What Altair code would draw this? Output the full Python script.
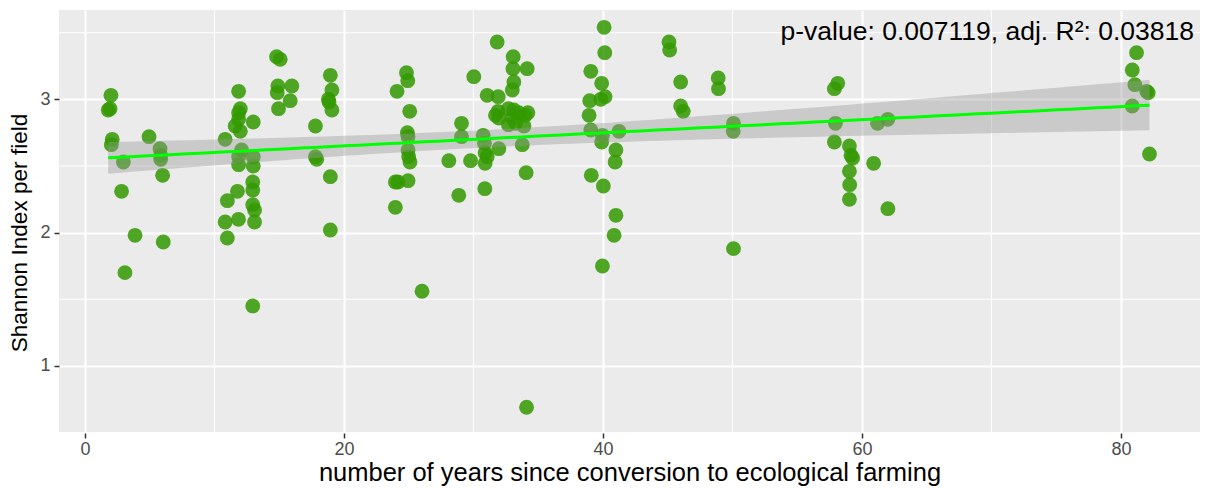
import altair as alt
import numpy as np
import pandas as pd

# ---- data ----
years = [
    2.01, 1.80, 1.94, 2.11, 2.04, 2.97, 2.83, 3.87, 3.09, 4.95, 5.80, 5.85, 5.85, 6.00, 6.05,
    11.87, 12.00, 11.87, 11.87, 11.60, 13.00, 12.00, 10.83, 12.10, 11.87, 13.00, 11.87, 13.00,
    12.96, 12.96, 11.78, 11.00, 12.96, 13.10, 10.83, 11.86, 13.10, 11.00, 12.96,
    14.80, 15.08, 14.90, 14.85, 15.98, 15.85, 14.95, 17.80, 17.80, 17.90, 18.95, 19.07, 18.80,
    18.85, 19.07, 18.95, 18.95,
    24.10, 24.83, 24.93, 25.08, 24.90, 24.95, 24.95, 25.00, 25.10, 23.97, 24.17, 24.95, 23.97, 26.03,
    28.10, 29.08, 29.08, 30.03, 29.78, 28.87, 30.75, 30.85, 30.90, 31.06, 30.90, 30.88, 31.06,
    31.91, 31.83, 31.90, 31.70, 31.96, 31.96,
    33.07, 33.05, 34.15, 33.12, 33.00, 32.70, 33.12, 33.50, 34.00, 34.20, 33.00, 32.70, 33.90,
    33.25, 33.77, 34.07, 34.10,
    39.06, 40.09, 40.14, 39.90, 40.16, 39.83, 38.98, 38.93, 39.06, 39.96, 39.90, 41.24, 41.00,
    40.94, 39.10, 40.03, 41.00, 40.86, 39.96,
    45.10, 45.15, 46.00, 46.00, 46.20, 48.90, 48.92, 50.08, 50.06, 50.08,
    57.87, 58.13, 57.95, 57.87, 59.03, 59.15, 59.28, 59.03, 59.05, 59.03, 60.90, 61.20, 62.00, 62.00,
    81.20, 80.87, 81.07, 81.98, 82.10, 80.87, 82.20,
]
shannon = [
    3.03, 2.92, 2.93, 2.70, 2.66, 2.53, 2.31, 1.98, 1.70, 2.72, 2.63, 2.58, 2.55, 2.43, 1.93,
    3.06, 2.93, 2.90, 2.85, 2.80, 2.83, 2.76, 2.70, 2.62, 2.57, 2.57, 2.51, 2.50,
    2.38, 2.32, 2.31, 2.24, 2.21, 2.17, 2.08, 2.10, 2.08, 1.96, 1.45,
    3.32, 3.30, 3.10, 3.05, 3.10, 2.99, 2.93, 2.80, 2.57, 2.55, 3.18, 3.07, 3.00,
    2.98, 2.92, 2.42, 2.02,
    3.06, 3.20, 3.14, 2.91, 2.75, 2.72, 2.62, 2.57, 2.53, 2.38, 2.38, 2.39, 2.19, 1.56,
    2.54, 2.82, 2.72, 3.17, 2.54, 2.28, 2.73, 2.67, 2.60, 2.57, 2.52, 2.33, 3.03,
    3.02, 3.43, 2.91, 2.88, 2.86, 2.63,
    3.32, 3.23, 3.23, 3.13, 3.07, 2.93, 2.92, 2.90, 2.88, 2.90, 2.86, 2.81, 2.80,
    2.82, 2.66, 2.45, 0.69,
    3.21, 3.54, 3.35, 3.12, 3.02, 3.00, 2.99, 2.88, 2.77, 2.73, 2.68, 2.76, 2.62,
    2.53, 2.43, 2.35, 2.13, 1.98, 1.75,
    3.43, 3.37, 3.13, 2.95, 2.91, 3.16, 3.08, 2.82, 2.76, 1.88,
    3.08, 3.12, 2.82, 2.68, 2.65, 2.58, 2.56, 2.46, 2.36, 2.25, 2.52, 2.82, 2.85, 2.18,
    3.35, 3.22, 3.11, 3.06, 3.05, 2.95, 2.59,
]
annotation = ["p-value: 0.007119, adj. R\u00b2: 0.03818"]
x_ticks = [0, 20, 40, 60, 80]
y_ticks = [1, 2, 3]
x_minor = [10, 30, 50, 70]
y_minor = [0.5, 1.5, 2.5, 3.5]

df = pd.DataFrame({"years": years, "shannon": shannon})

# ---- linear fit with 95% confidence band (as geom_smooth(method="lm")) ----
xa = np.array(years)
ya = np.array(shannon)
n = len(xa)
b1, b0 = np.polyfit(xa, ya, 1)
resid = ya - (b0 + b1 * xa)
s = np.sqrt(np.sum(resid ** 2) / (n - 2))
xg = np.linspace(xa.min(), xa.max(), 80)
yg = b0 + b1 * xg
se = s * np.sqrt(1.0 / n + (xg - xa.mean()) ** 2 / np.sum((xa - xa.mean()) ** 2))
tval = 1.9755
fit = pd.DataFrame({"years": xg, "shannon": yg, "lo": yg - tval * se, "hi": yg + tval * se})

FONT = "Liberation Sans"
xtitle = "number of years since conversion to ecological farming"
ytitle = "Shannon Index per field"

xscale = alt.Scale(domain=[-2.0, 86.1], nice=False, zero=False)
yscale = alt.Scale(domain=[0.497, 3.67], nice=False, zero=False)

xaxis = alt.Axis(values=x_ticks, grid=True, gridColor="white", gridWidth=2,
                 domain=False, tickColor="#333333", tickSize=5, tickWidth=1.5,
                 labelFont=FONT, labelFontSize=18, labelColor="#4D4D4D", labelPadding=2,
                 titleFont=FONT, titleFontSize=25.5, titleFontWeight="normal", titleColor="black",
                 titlePadding=2)
yaxis = alt.Axis(values=y_ticks, grid=True, gridColor="white", gridWidth=2,
                 domain=False, tickColor="#333333", tickSize=5, tickWidth=1.5,
                 labelFont=FONT, labelFontSize=18, labelColor="#4D4D4D", labelPadding=4,
                 titleFont=FONT, titleFontSize=22.6, titleFontWeight="normal", titleColor="black",
                 titlePadding=8, titleY=222.5)

minor_x = alt.Chart(pd.DataFrame({"years": x_minor})).mark_rule(color="white", strokeWidth=1).encode(
    x=alt.X("years:Q", scale=xscale, axis=xaxis, title=xtitle)
)
minor_y = alt.Chart(pd.DataFrame({"shannon": y_minor})).mark_rule(color="white", strokeWidth=1).encode(
    y=alt.Y("shannon:Q", scale=yscale, axis=yaxis, title=ytitle)
)

points = alt.Chart(df).mark_circle(size=220, color="#339900", opacity=0.85).encode(
    x=alt.X("years:Q", scale=xscale, axis=xaxis, title=xtitle),
    y=alt.Y("shannon:Q", scale=yscale, axis=yaxis, title=ytitle),
)

band = alt.Chart(fit).mark_area(color="#999999", opacity=0.4).encode(
    x=alt.X("years:Q", scale=xscale, axis=xaxis, title=xtitle),
    y=alt.Y("lo:Q", scale=yscale, axis=yaxis, title=ytitle),
    y2="hi:Q",
)

line = alt.Chart(fit).mark_line(color="#00FF00", strokeWidth=3).encode(
    x=alt.X("years:Q", scale=xscale, axis=xaxis, title=xtitle),
    y=alt.Y("shannon:Q", scale=yscale, axis=yaxis, title=ytitle),
)

label = alt.Chart(pd.DataFrame({"txt": annotation})).mark_text(
    align="right", baseline="alphabetic", font=FONT, fontSize=26.5, color="black"
).encode(
    text="txt:N",
    x=alt.value(1135),
    y=alt.value(29.5),
)

chart = alt.layer(minor_x, minor_y, points, band, line, label).properties(
    width=1141, height=423,
    autosize=alt.AutoSizeParams(type="none"),
    padding={"left": 59, "top": 10, "right": 7, "bottom": 56},
    background="white",
).configure_view(fill="#EBEBEB", strokeWidth=0)

chart.save("out.html", embed_options={"renderer": "svg", "actions": False})
